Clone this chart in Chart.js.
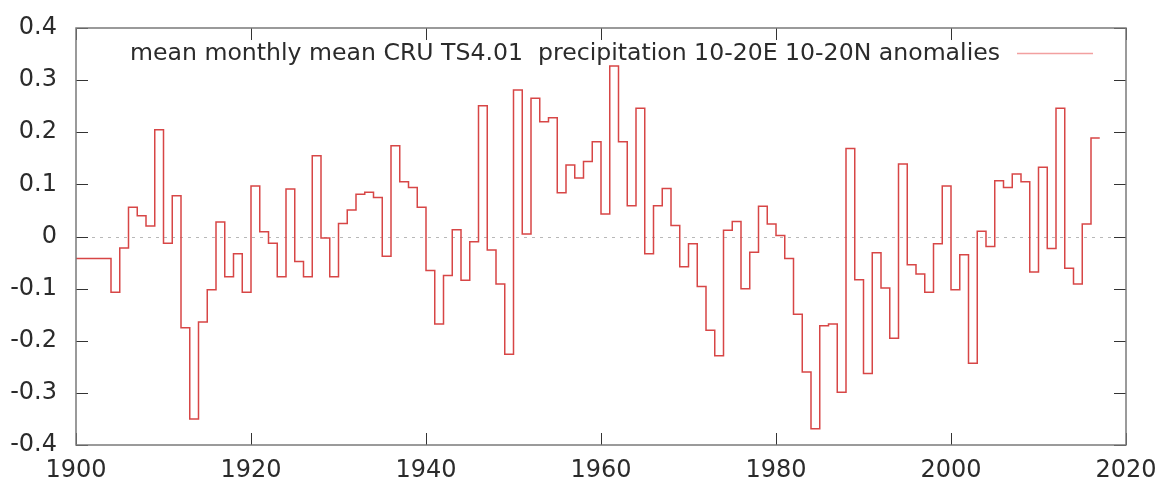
<!DOCTYPE html>
<html>
<head>
<meta charset="utf-8">
<script src="https://cdn.jsdelivr.net/npm/chart.js@4.4.1/dist/chart.umd.min.js"></script>
<style>
  html, body { margin: 0; padding: 0; background: #ffffff; }
  #wrap { width: 1159px; height: 486px; position: relative; }
</style>
</head>
<body>
<div id="wrap"><canvas id="c" width="1159" height="486"></canvas></div>
<script>
// ---- data ----
const seriesLabel = "mean monthly mean CRU TS4.01  precipitation 10-20E 10-20N anomalies";
const years = [
  1900,1901,1902,1903,1904,1905,1906,1907,1908,1909,
  1910,1911,1912,1913,1914,1915,1916,1917,1918,1919,
  1920,1921,1922,1923,1924,1925,1926,1927,1928,1929,
  1930,1931,1932,1933,1934,1935,1936,1937,1938,1939,
  1940,1941,1942,1943,1944,1945,1946,1947,1948,1949,
  1950,1951,1952,1953,1954,1955,1956,1957,1958,1959,
  1960,1961,1962,1963,1964,1965,1966,1967,1968,1969,
  1970,1971,1972,1973,1974,1975,1976,1977,1978,1979,
  1980,1981,1982,1983,1984,1985,1986,1987,1988,1989,
  1990,1991,1992,1993,1994,1995,1996,1997,1998,1999,
  2000,2001,2002,2003,2004,2005,2006,2007,2008,2009,
  2010,2011,2012,2013,2014,2015,2016
];
const anomalies = [
  -0.042,-0.042,-0.042,-0.042,-0.107,-0.022, 0.056, 0.040, 0.020, 0.205,
  -0.013, 0.078,-0.175,-0.350,-0.164,-0.102, 0.028,-0.077,-0.033,-0.107,
   0.097, 0.009,-0.013,-0.077, 0.091,-0.048,-0.077, 0.155,-0.003,-0.077,
   0.025, 0.051, 0.081, 0.085, 0.075,-0.038, 0.174, 0.105, 0.094, 0.056,
  -0.065,-0.168,-0.075, 0.013,-0.084,-0.010, 0.251,-0.026,-0.091,-0.226,
   0.281, 0.005, 0.265, 0.220, 0.228, 0.084, 0.137, 0.112, 0.144, 0.182,
   0.043, 0.327, 0.182, 0.059, 0.246,-0.033, 0.059, 0.092, 0.021,-0.058,
  -0.014,-0.096,-0.180,-0.229, 0.012, 0.029,-0.100,-0.030, 0.058, 0.024,
   0.002,-0.042,-0.149,-0.260,-0.369,-0.171,-0.168,-0.299, 0.169,-0.083,
  -0.263,-0.031,-0.099,-0.195, 0.139,-0.054,-0.072,-0.107,-0.014, 0.097,
  -0.102,-0.035,-0.243, 0.010,-0.019, 0.107, 0.094, 0.120, 0.105,-0.068,
   0.133,-0.023, 0.246,-0.061,-0.091, 0.024, 0.189
];
const xTicks = [1900, 1920, 1940, 1960, 1980, 2000, 2020];
const yTicks = [-0.4, -0.3, -0.2, -0.1, 0, 0.1, 0.2, 0.3, 0.4];

// ---- build step points: each annual value spans [year, year+1] ----
const points = years.map((yr, i) => ({ x: yr, y: anomalies[i] }));
points.push({ x: years[years.length - 1] + 1, y: anomalies[anomalies.length - 1] });

const FONT = "DejaVu Sans";
const TEXT = "#2b2b2b";
const FSIZE = 24;

const gnuplotDecor = {
  id: 'gnuplotDecor',
  beforeDatasetsDraw(chart) {
    const { ctx, chartArea: a, scales: { y } } = chart;
    const y0 = Math.round(y.getPixelForValue(0)) + 0.5;
    ctx.save();
    ctx.strokeStyle = '#b8b8b8';
    ctx.lineWidth = 1;
    ctx.setLineDash([3, 5]);
    ctx.beginPath();
    ctx.moveTo(a.left, y0);
    ctx.lineTo(a.right, y0);
    ctx.stroke();
    ctx.restore();
  },
  afterDatasetsDraw(chart) {
    const { ctx, chartArea: a, scales: { x, y } } = chart;
    const tl = 12;
    ctx.save();
    ctx.strokeStyle = '#333333';
    ctx.lineWidth = 1;
    ctx.beginPath();
    yTicks.forEach(v => {
      const py = Math.round(y.getPixelForValue(v)) + 0.5;
      ctx.moveTo(a.left, py); ctx.lineTo(a.left + tl, py);
      ctx.moveTo(a.right, py); ctx.lineTo(a.right - tl, py);
    });
    xTicks.forEach(v => {
      const px = Math.round(x.getPixelForValue(v)) + 0.5;
      ctx.moveTo(px, a.bottom); ctx.lineTo(px, a.bottom - tl);
      ctx.moveTo(px, a.top); ctx.lineTo(px, a.top + tl);
    });
    ctx.stroke();
    ctx.strokeStyle = '#7a7a7a';
    ctx.lineWidth = 1.5;
    ctx.strokeRect(a.left, a.top, a.right - a.left, a.bottom - a.top);
    ctx.restore();
  },
  afterDraw(chart) {
    const { ctx } = chart;
    const label = chart.data.datasets[0].label;
    ctx.save();
    ctx.font = "23.6px '" + FONT + "'";
    ctx.fillStyle = TEXT;
    ctx.textAlign = 'right';
    ctx.textBaseline = 'middle';
    ctx.fillText(label, 1000, 54);
    ctx.strokeStyle = '#f2a0a0';
    ctx.lineWidth = 1.5;
    ctx.beginPath();
    ctx.moveTo(1017, 53.5);
    ctx.lineTo(1093, 53.5);
    ctx.stroke();
    ctx.restore();
  }
};

new Chart(document.getElementById('c'), {
  type: 'line',
  data: {
    datasets: [{
      label: seriesLabel,
      data: points,
      stepped: 'before',
      borderColor: 'rgb(215,70,70)',
      borderWidth: 1.5,
      pointRadius: 0,
      fill: false,
      tension: 0
    }]
  },
  options: {
    responsive: false,
    animation: false,
    events: [],
    layout: { padding: { left: 0, right: 33, top: 28, bottom: 0 } },
    plugins: { legend: { display: false }, tooltip: { enabled: false } },
    scales: {
      x: {
        type: 'linear',
        min: 1900, max: 2020,
        afterBuildTicks(s) { s.ticks = xTicks.map(v => ({ value: v })); },
        afterFit(s) { s.height = 41; s.paddingLeft = 0; s.paddingRight = 0; },
        ticks: {
          autoSkip: false, maxRotation: 0, padding: 11,
          color: TEXT, font: { family: FONT, size: FSIZE },
          callback: v => String(v)
        },
        grid: { display: false, drawTicks: false },
        border: { display: false }
      },
      y: {
        min: -0.4, max: 0.4,
        afterBuildTicks(s) { s.ticks = yTicks.map(v => ({ value: v })); },
        afterFit(s) { s.width = 76; s.paddingTop = 0; s.paddingBottom = 0; },
        ticks: {
          autoSkip: false, padding: 19,
          color: TEXT, font: { family: FONT, size: FSIZE },
          callback: v => String(Math.round(v * 10) / 10)
        },
        grid: { display: false, drawTicks: false },
        border: { display: false }
      }
    }
  },
  plugins: [gnuplotDecor]
});
</script>
</body>
</html>
